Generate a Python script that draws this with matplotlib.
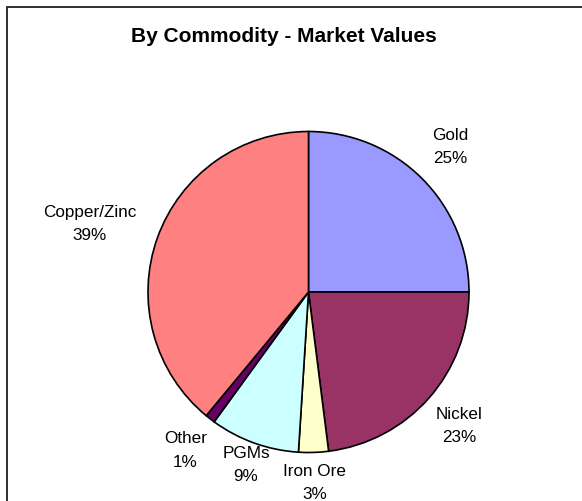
import matplotlib
matplotlib.use("Agg")
import matplotlib.pyplot as plt
import numpy as np
from matplotlib.patches import Rectangle

categories = ["Gold", "Nickel", "Iron Ore", "PGMs", "Other", "Copper/Zinc"]
values = [25, 23, 3, 9, 1, 39]
colors = ["#9999FF", "#993366", "#FFFFCC", "#CCFFFF", "#660066", "#FF8080"]
label_dist = [1.25, 1.25, 1.18, 1.15, 1.25, 1.43]
label_nudge = [(0, 3), (0, -1), (0, -2), (0, 1), (0, 0), (-3, -10)]
title = "By Commodity - Market Values"

plt.rcParams['font.family'] = ['Liberation Sans', 'DejaVu Sans']

W, H = 582, 501
fig = plt.figure(figsize=(W / 100, H / 100), dpi=100)
ax = fig.add_axes([0, 0, 1, 1])

cx, cy, R = 308.5, H - 292.0, 160.5
wedges, _ = ax.pie(values, colors=colors, startangle=90, counterclock=False,
                   center=(cx, cy), radius=R,
                   wedgeprops=dict(edgecolor="black", linewidth=1.2))
ax.set_xlim(0, W)
ax.set_ylim(0, H)
ax.set_aspect('auto')
ax.axis('off')

total = sum(values)
for w, name, v, d, (nx, ny) in zip(wedges, categories, values, label_dist, label_nudge):
    ang = np.deg2rad((w.theta1 + w.theta2) / 2)
    x = cx + R * d * np.cos(ang) + nx
    y = cy + R * d * np.sin(ang) + ny
    ax.text(x, y, f"{name}\n{round(100 * v / total)}%", ha="center", va="center",
            fontsize=12.3, linespacing=1.68, color="black")

ax.text(283.5, H - 36, title, ha="center", va="center", fontsize=15,
        fontweight="bold")

ax.add_patch(Rectangle((6.5, -10), W + 20, H - 6.5 + 10, fill=False,
                       edgecolor="#202020", linewidth=1.3, clip_on=False))

fig.savefig("out.png", dpi=100)
